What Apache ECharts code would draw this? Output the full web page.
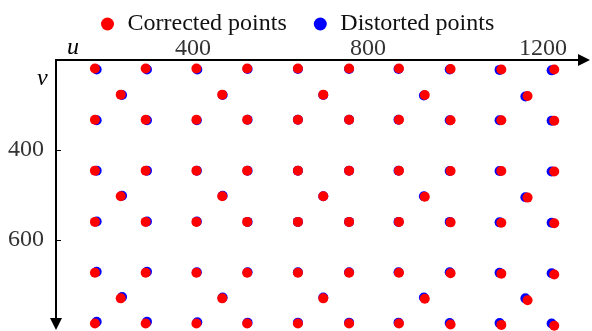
<!DOCTYPE html>
<html>
<head>
<meta charset="utf-8">
<script src="https://cdn.jsdelivr.net/npm/echarts@6/dist/echarts.min.js"></script>
<style>
html,body{margin:0;padding:0;background:#fff;}
#chart{width:592px;height:331px;}
</style>
</head>
<body>
<div id="chart"></div>
<script>
// Tick labels
var uTicks = [400, 800, 1200];
var vTicks = [400, 600];
var seriesNames = ['Corrected points', 'Distorted points'];

// Corrected points [u, v]
var corrected = [
  [176,219],[292,219],[408,219],[524,219],[640,219],[757,219],[871,219],[989,220],[1105,221],[1226,221],
  [235,277],[467,277],[698,277],[930,278],[1165,280],
  [176,333],[292,333],[408,333],[524,333],[640,333],[757,333],[871,333],[989,334],[1105,334],[1226,335],
  [176,446],[292,446],[408,446],[524,446],[640,446],[757,446],[871,446],[989,447],[1105,447],[1226,448],
  [235,503],[467,503],[698,503],[930,504],[1165,506],
  [176,560],[292,560],[408,560],[524,560],[640,560],[757,560],[871,560],[989,561],[1105,562],[1226,563],
  [176,673],[292,673],[408,673],[524,673],[640,673],[757,673],[871,673],[989,674],[1105,675],[1226,677],
  [235,730],[467,730],[698,730],[930,731],[1165,734],
  [176,786],[292,786],[408,786],[524,786],[640,786],[757,786],[871,786],[989,788],[1105,789],[1226,791]
];

// Distorted points [u, v]
var distorted = [
  [180,221],[295,221],[410,221],[525,220],[640,220],[757,220],[870,220],[987,221],[1101,222],[1220,223],
  [238,278],[468,278],[698,278],[928,279],[1160,281],
  [180,334],[295,334],[409,334],[525,333],[640,333],[757,333],[870,333],[987,334],[1101,334],[1220,335],
  [180,446],[295,446],[409,446],[525,446],[640,446],[757,446],[870,446],[987,447],[1101,447],[1220,448],
  [238,502],[468,502],[698,503],[928,503],[1160,505],
  [180,559],[295,559],[409,559],[525,560],[640,560],[757,560],[870,560],[987,560],[1101,561],[1220,562],
  [180,671],[295,671],[409,672],[525,672],[640,672],[757,672],[870,672],[987,672],[1101,673],[1220,674],
  [238,727],[468,728],[698,728],[928,728],[1160,730],
  [180,782],[295,782],[410,783],[525,784],[640,784],[757,784],[870,784],[987,785],[1101,785],[1220,786]
];

var FONT = 'Liberation Serif';
var chart = echarts.init(document.getElementById('chart'), null, {renderer: 'canvas'});
chart.setOption({
  animation: false,
  backgroundColor: '#ffffff',
  legend: {
    data: seriesNames,
    left: 96,
    top: 7,
    itemWidth: 30,
    itemHeight: 13,
    itemGap: 27,
    icon: 'circle',
    textStyle: {fontFamily: FONT, fontSize: 24, color: '#111'}
  },
  grid: {left: 56, top: 60, right: 8, bottom: 7, containLabel: false},
  xAxis: {
    type: 'value',
    position: 'top',
    min: 87,
    max: 1294,
    splitLine: {show: false},
    axisLine: {show: true, lineStyle: {color: '#000', width: 2}, symbol: ['none', 'triangle'], symbolSize: [12, 12]},
    axisTick: {show: false},
    axisLabel: {customValues: uTicks, margin: -1, fontFamily: FONT, fontSize: 24, color: '#333',
      formatter: function (v) { return String(v); }}
  },
  yAxis: {
    type: 'value',
    inverse: true,
    min: 200,
    max: 787,
    splitLine: {show: false},
    axisLine: {show: true, lineStyle: {color: '#000', width: 2}, symbol: ['triangle', 'none'], symbolSize: [12, 12]},
    axisTick: {show: true, inside: true, length: 5, customValues: vTicks, lineStyle: {color: '#000', width: 1}},
    axisLabel: {customValues: vTicks, margin: 12, fontFamily: FONT, fontSize: 24, color: '#333',
      formatter: function (v) { return String(v); }}
  },
  graphic: [
    {type: 'text', left: 67, top: 36, style: {text: 'u', fontFamily: FONT, fontStyle: 'italic', fontSize: 24, fill: '#000'}},
    {type: 'text', left: 37, top: 67, style: {text: 'v', fontFamily: FONT, fontStyle: 'italic', fontSize: 24, fill: '#000'}}
  ],
  series: [
    {
      name: seriesNames[0], type: 'scatter', data: corrected, symbolSize: 10, clip: false, z: 3,
      itemStyle: {color: '#ff0000', opacity: 1}
    },
    {
      name: seriesNames[1], type: 'scatter', data: distorted, symbolSize: 10, clip: false, z: 2,
      itemStyle: {color: '#0000ff', opacity: 1}
    }
  ]
});
</script>
</body>
</html>
